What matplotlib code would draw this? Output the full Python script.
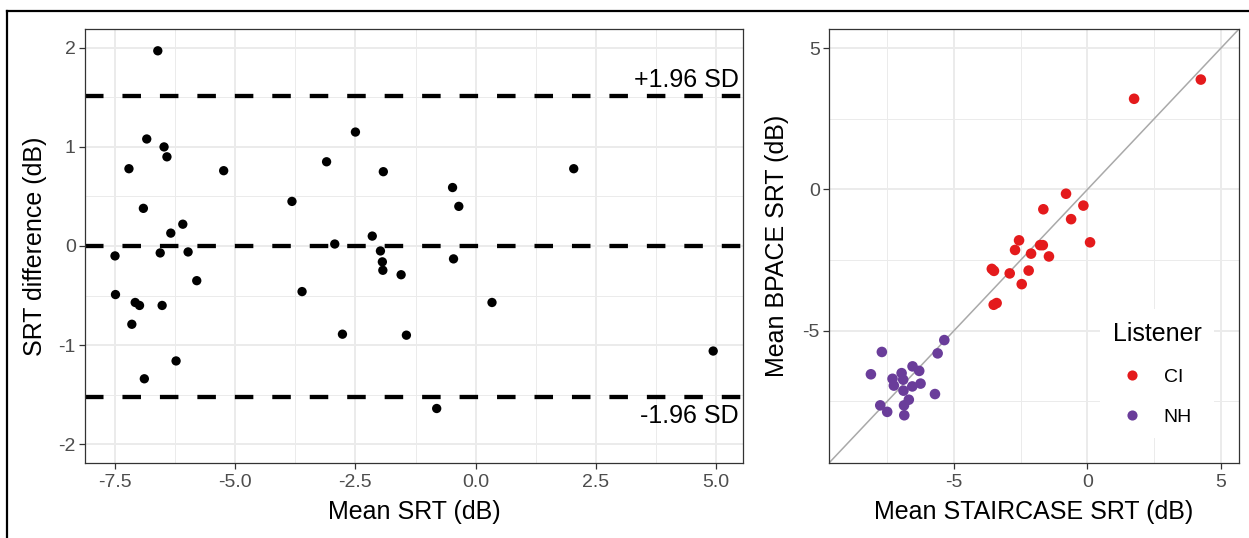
import matplotlib
matplotlib.use("Agg")
import matplotlib.pyplot as plt
from matplotlib.lines import Line2D
from matplotlib.ticker import FixedLocator

plt.rcParams['font.family'] = ['Liberation Sans', 'DejaVu Sans']
plt.rcParams['axes.unicode_minus'] = False

# ---------------- Bland-Altman panel data ----------------
mean_srt = [-6.61, -7.21, -6.84, -6.48, -6.42, -6.91, -5.24, -3.82, -3.10, -2.50,
            -1.92, -2.93, -2.15, -1.98, -6.34, -6.09, -7.50, -6.56, -5.98, -7.49,
            -5.80, -7.08, -6.99, -6.52, -7.15, -6.23, -6.89, -3.61, -2.77, -1.94,
            -1.93, -1.55, -1.44, -0.46, -0.35, -0.48, 2.04, 0.34, 4.94, -0.81]
srt_diff = [1.97, 0.78, 1.08, 1.00, 0.90, 0.38, 0.76, 0.45, 0.85, 1.15,
            0.75, 0.02, 0.10, -0.05, 0.13, 0.22, -0.10, -0.07, -0.06, -0.49,
            -0.35, -0.57, -0.60, -0.60, -0.79, -1.16, -1.34, -0.46, -0.89, -0.16,
            -0.245, -0.29, -0.90, -0.13, 0.40, 0.59, 0.78, -0.57, -1.06, -1.64]
bias = -0.005
upper_loa = 1.51
lower_loa = -1.52
loa_labels = ['+1.96 SD', '-1.96 SD']

# ---------------- Scatter panel data ----------------
ci_staircase = [4.25, 1.75, -0.80, -1.65, -0.15, -0.61, 0.10, -2.56, -2.71, -1.77,
                -1.67, -2.11, -1.44, -3.58, -3.50, -2.91, -2.20, -2.46, -3.51, -3.40]
ci_bpace = [3.89, 3.21, -0.15, -0.70, -0.57, -1.05, -1.87, -1.80, -2.14, -1.97,
            -1.97, -2.27, -2.37, -2.81, -2.88, -2.97, -2.87, -3.35, -4.08, -4.02]
nh_staircase = [-5.36, -5.61, -7.70, -8.11, -6.55, -6.30, -6.96, -7.30, -6.90, -7.25,
                -6.56, -6.25, -6.89, -5.71, -6.69, -6.87, -7.76, -7.50, -6.86]
nh_bpace = [-5.33, -5.80, -5.75, -6.54, -6.26, -6.42, -6.50, -6.70, -6.73, -6.94,
            -6.97, -6.87, -7.12, -7.24, -7.44, -7.64, -7.64, -7.87, -7.99]
groups = ['CI', 'NH']
group_colors = ['#E41A1C', '#6A3D9A']

W, H = 1249, 538
fig = plt.figure(figsize=(W / 100, H / 100), dpi=100)


def px_axes(x0, y0, x1, y1):
    return fig.add_axes([x0 / W, 1 - y1 / H, (x1 - x0) / W, (y1 - y0) / H])


ax1 = px_axes(85, 29, 743, 463)
ax2 = px_axes(829, 29, 1239, 463)

grid_col = '#EBEBEB'
border_col = '#333333'
tick_col = '#4D4D4D'


def style(ax):
    ax.set_facecolor('white')
    for s in ax.spines.values():
        s.set_color(border_col)
        s.set_linewidth(0.9)
        s.set_zorder(6)
    ax.set_axisbelow(True)
    ax.grid(True, which='major', color=grid_col, lw=1.4, zorder=0)
    ax.grid(True, which='minor', color=grid_col, lw=0.7, zorder=0)
    ax.tick_params(which='major', length=4.3, width=0.9, color=border_col,
                   labelcolor=tick_col, labelsize=14)
    ax.tick_params(which='minor', length=0)
    ax.tick_params(axis='x', pad=3.5)
    ax.tick_params(axis='y', pad=2.4)


# ---------------- Left panel ----------------
style(ax1)
ax1.scatter(mean_srt, srt_diff, s=45, color='black', edgecolors='none', zorder=3)
for yv in (upper_loa, bias, lower_loa):
    ax1.axhline(yv, color='black', lw=3.1, dashes=(4.3, 4.4), zorder=2)
ax1.text(5.48, 1.60, loa_labels[0], ha='right', va='baseline', fontsize=18)
ax1.text(5.46, -1.79, loa_labels[1], ha='right', va='baseline', fontsize=18)
ax1.set_xlim(-8.124, 5.56)
ax1.set_ylim(-2.19, 2.19)
ax1.xaxis.set_major_locator(FixedLocator([-7.5, -5.0, -2.5, 0.0, 2.5, 5.0]))
ax1.set_xticklabels(['-7.5', '-5.0', '-2.5', '0.0', '2.5', '5.0'])
ax1.xaxis.set_minor_locator(FixedLocator([-6.25, -3.75, -1.25, 1.25, 3.75]))
ax1.yaxis.set_major_locator(FixedLocator([-2, -1, 0, 1, 2]))
ax1.yaxis.set_minor_locator(FixedLocator([-1.5, -0.5, 0.5, 1.5]))
ax1.set_xlabel('Mean SRT (dB)', fontsize=18)
ax1.set_ylabel('SRT difference (dB)', fontsize=18)
ax1.xaxis.label.set_va('center')
ax1.yaxis.label.set_va('center')
ax1.xaxis.set_label_coords(0.5, -0.114)
ax1.yaxis.set_label_coords(-0.076, 0.5)

# ---------------- Right panel ----------------
style(ax2)
ax2.axline((0, 0), slope=1, color='#A9A9A9', lw=1.1, zorder=2)
ax2.scatter(ci_staircase, ci_bpace, s=58, color=group_colors[0], edgecolors='none', zorder=3)
ax2.scatter(nh_staircase, nh_bpace, s=58, color=group_colors[1], edgecolors='none', zorder=3)
lim = (-9.68, 5.68)
ax2.set_xlim(lim)
ax2.set_ylim(lim)
ax2.xaxis.set_major_locator(FixedLocator([-5, 0, 5]))
ax2.yaxis.set_major_locator(FixedLocator([-5, 0, 5]))
ax2.xaxis.set_minor_locator(FixedLocator([-7.5, -2.5, 2.5]))
ax2.yaxis.set_minor_locator(FixedLocator([-7.5, -2.5, 2.5]))
ax2.set_xlabel('Mean STAIRCASE SRT (dB)', fontsize=18)
ax2.set_ylabel('Mean BPACE SRT (dB)', fontsize=18)
ax2.xaxis.label.set_va('center')
ax2.yaxis.label.set_va('center')
ax2.xaxis.set_label_coords(0.5, -0.114)
ax2.yaxis.set_label_coords(-0.127, 0.5)

handles = [Line2D([], [], marker='o', ls='none', color=c, markersize=7.3,
                  markeredgewidth=0) for c in group_colors]
leg = ax2.legend(handles, groups, title='Listener', loc='upper left',
                 bbox_to_anchor=(0.661, 0.355), frameon=True, fancybox=False,
                 edgecolor='none', facecolor='white', framealpha=1,
                 fontsize=14, title_fontsize=18, borderpad=0.65,
                 handlelength=1.95, handletextpad=0.68, labelspacing=1.15,
                 alignment='left', borderaxespad=0)
leg.set_zorder(7)

# ---------------- outer frame lines ----------------
fig.add_artist(Line2D([7 / W, 1], [1 - 11 / H, 1 - 11 / H], color='black', lw=1.6,
                      transform=fig.transFigure))
fig.add_artist(Line2D([7 / W, 7 / W], [0, 1 - 11 / H], color='black', lw=1.6,
                      transform=fig.transFigure))

fig.savefig('out.png', dpi=100)
